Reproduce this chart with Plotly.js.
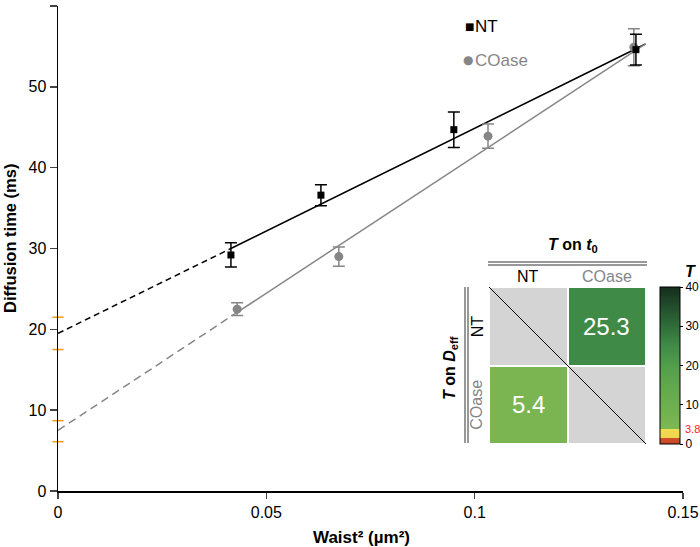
<!DOCTYPE html>
<html>
<head>
<meta charset="utf-8">
<script src="https://cdn.plot.ly/plotly-3.0.1.min.js"></script>
<style>html,body{margin:0;padding:0;background:#fff}#chart{width:700px;height:547px}</style>
</head>
<body>
<div id="chart"></div>
<script>
// ---- data ----
var waistNT = [0.0415, 0.0631, 0.0950, 0.1387];
var timeNT  = [29.2, 36.6, 44.7, 54.6];
var errNT   = [1.5, 1.3, 2.2, 1.9];

var waistCO = [0.0430, 0.0674, 0.1032, 0.1382];
var timeCO  = [22.5, 29.0, 43.9, 54.9];
var errCO   = [0.8, 1.2, 1.5, 2.3];

// linear fits: [intercept point, first data x, end]
var fitNTx = [0, 0.0415, 0.141];
var fitNTy = [19.5, 30.0, 55.3];
var fitCOx = [0, 0.043, 0.141];
var fitCOy = [7.5, 22.1, 55.3];

// intercept confidence bounds at x = 0
var ciX  = [0, 0, 0, 0];
var ciY  = [21.5, 17.5, 8.7, 6.1];

// inset: T statistics
var groups = ['NT', 'COase'];
var tValues = [[null, 25.3], [5.4, null]];
var diagMask = [[1, null], [null, 1]];
var tThreshold = 3.8;
var cbTicks = [0, 10, 20, 30, 40];

// ---- layout geometry (pixels) ----
var W = 700, H = 547;
var mL = 58, mR = 17, mT = 6, mB = 56;
var pw = W - mL - mR, ph = H - mT - mB;
function PX(x) { return (x - mL) / pw; }
function PY(y) { return (H - mB - y) / ph; }

var gray = '#868686';
var font = 'Liberation Sans, Arial, sans-serif';

var cbTop = 287, cbBot = 444, cbLeft = 660, cbW = 20;
var cbLen = cbBot - cbTop;
var yThr = cbBot - tThreshold / 40 * cbLen;

function A(o) {
  var base = {showarrow: false, xanchor: 'center', yanchor: 'middle', xref: 'paper', yref: 'paper'};
  for (var k in o) base[k] = o[k];
  return base;
}

var traces = [
  // fits
  {x: fitNTx.slice(0, 2), y: fitNTy.slice(0, 2), mode: 'lines', line: {color: '#000', width: 1.5, dash: '6px,4px'}, hoverinfo: 'skip', showlegend: false, cliponaxis: false},
  {x: fitNTx.slice(1), y: fitNTy.slice(1), mode: 'lines', line: {color: '#000', width: 1.5}, hoverinfo: 'skip', showlegend: false},
  {x: fitCOx.slice(0, 2), y: fitCOy.slice(0, 2), mode: 'lines', line: {color: gray, width: 1.5, dash: '8px,5px'}, hoverinfo: 'skip', showlegend: false, cliponaxis: false},
  {x: fitCOx.slice(1), y: fitCOy.slice(1), mode: 'lines', line: {color: gray, width: 1.5}, hoverinfo: 'skip', showlegend: false},
  // data
  {x: waistCO, y: timeCO, name: 'COase', mode: 'markers',
   marker: {symbol: 'circle', size: 9, color: gray},
   error_y: {type: 'data', array: errCO, visible: true, color: gray, thickness: 1.5, width: 6}, showlegend: false},
  {x: waistNT, y: timeNT, name: 'NT', mode: 'markers',
   marker: {symbol: 'square', size: 7, color: '#000'},
   error_y: {type: 'data', array: errNT, visible: true, color: '#000', thickness: 1.5, width: 6}, showlegend: false},
  // intercept CI marks
  {x: ciX, y: ciY, mode: 'markers', marker: {symbol: 'line-ew-open', size: 8, color: '#f39c12', line: {color: '#f39c12', width: 1.5}}, cliponaxis: false, hoverinfo: 'skip', showlegend: false},
  // inset heatmap
  {type: 'heatmap', z: diagMask, x: [0, 1], y: [0, 1], xaxis: 'x2', yaxis: 'y2',
   colorscale: [[0, '#d4d4d4'], [1, '#d4d4d4']], showscale: false, xgap: 2, ygap: 2, hoverinfo: 'skip'},
  {type: 'heatmap', z: tValues, x: [0, 1], y: [0, 1], xaxis: 'x2', yaxis: 'y2',
   zmin: 0, zmax: 40, xgap: 2, ygap: 2, hoverinfo: 'skip',
   colorscale: [
     [0, '#c8462a'], [0.036, '#d0502b'], [0.04, '#efd64a'], [0.093, '#f2dc52'],
     [0.095, '#7cb955'], [0.135, '#7ab552'], [0.3, '#68ac4e'], [0.48, '#55a04b'],
     [0.6325, '#3f8a47'], [0.78, '#2c6535'], [1, '#152e1e']],
   colorbar: {x: PX(cbLeft), xanchor: 'left', xpad: 0, ypad: 0, thickness: cbW,
     lenmode: 'pixels', len: cbLen, y: PY(cbBot), yanchor: 'bottom',
     outlinewidth: 1, outlinecolor: '#000', tickvals: cbTicks, ticks: 'outside', ticklen: 3,
     tickcolor: '#000', tickfont: {family: font, size: 12, color: '#000'}}}
];

var ann = [
  // axis titles
  A({x: PX(361), y: PY(537), text: '<b>Waist² (µm²)</b>', font: {family: font, size: 17, color: '#000'}}),
  A({x: PX(10), y: PY(239), text: '<b>Diffusion time (ms)</b>', textangle: -90, font: {family: font, size: 16.5, color: '#000'}}),
  // legend
  A({x: PX(462.5), y: PY(27), xanchor: 'left', text: '■', font: {family: 'DejaVu Sans', size: 10, color: '#000'}}),
  A({x: PX(473), y: PY(27), xanchor: 'left', text: 'NT', font: {family: font, size: 17, color: '#000'}}),
  A({x: PX(461.5), y: PY(60), xanchor: 'left', text: '●', font: {family: 'DejaVu Sans', size: 12, color: gray}}),
  A({x: PX(473), y: PY(60), xanchor: 'left', text: 'COase', font: {family: font, size: 17, color: gray}}),
  // inset titles
  A({x: PX(573), y: PY(245), text: '<b><i>T</i> on <i>t</i><sub>0</sub></b>', font: {family: font, size: 16, color: '#000'}}),
  A({x: PX(450), y: PY(368), text: '<b><i>T</i> on <i>D</i><sub>eff</sub></b>', textangle: -90, font: {family: font, size: 16, color: '#000'}}),
  A({xref: 'x2', x: 0, y: PY(276), text: groups[0], font: {family: font, size: 16, color: '#000'}}),
  A({xref: 'x2', x: 1, y: PY(276), text: groups[1], font: {family: font, size: 16, color: gray}}),
  A({yref: 'y2', x: PX(477), y: 0, text: groups[0], textangle: -90, font: {family: font, size: 16, color: '#000'}}),
  A({yref: 'y2', x: PX(477), y: 1, text: groups[1], textangle: -90, font: {family: font, size: 16, color: gray}}),
  // cell values
  A({xref: 'x2', yref: 'y2', x: 1, y: 0, text: String(tValues[0][1]), font: {family: font, size: 24, color: '#fff'}}),
  A({xref: 'x2', yref: 'y2', x: 0, y: 1, text: String(tValues[1][0]), font: {family: font, size: 24, color: '#fff'}}),
  // colorbar title + threshold
  A({x: PX(690), y: PY(271), text: '<b><i>T</i></b>', font: {family: font, size: 16, color: '#000'}}),
  A({x: PX(683), y: PY(yThr), xanchor: 'left', text: String(tThreshold), font: {family: font, size: 11, color: '#ff2020'}})
];

var shapes = [
  {type: 'line', xref: 'x2', yref: 'y2', x0: -0.5, y0: -0.5, x1: 1.5, y1: 1.5, line: {color: '#000', width: 1}},
  {type: 'line', xref: 'paper', yref: 'paper', x0: PX(488), x1: PX(647), y0: PY(262), y1: PY(262), line: {color: '#333', width: 1}},
  {type: 'line', xref: 'paper', yref: 'paper', x0: PX(488), x1: PX(647), y0: PY(265), y1: PY(265), line: {color: '#333', width: 1}},
  {type: 'line', xref: 'paper', yref: 'paper', x0: PX(465), x1: PX(465), y0: PY(287), y1: PY(443), line: {color: '#333', width: 1}},
  {type: 'line', xref: 'paper', yref: 'paper', x0: PX(468), x1: PX(468), y0: PY(287), y1: PY(443), line: {color: '#333', width: 1}},
  {type: 'line', xref: 'paper', yref: 'paper', x0: PX(cbLeft), x1: PX(cbLeft + cbW),
   y0: PY(yThr), y1: PY(yThr), line: {color: '#ff2020', width: 1.5, dash: 'dot'}}
];

var layout = {
  width: W, height: H,
  margin: {l: mL, r: mR, t: mT, b: mB, autoexpand: false},
  paper_bgcolor: '#fff', plot_bgcolor: 'rgba(0,0,0,0)',
  font: {family: font, size: 16, color: '#000'},
  showlegend: false,
  xaxis: {range: [0, 0.15], tickvals: [0, 0.05, 0.1, 0.15], ticks: 'outside', ticklen: 6, tickwidth: 1.5,
    showline: true, linecolor: '#000', linewidth: 1.5, showgrid: false, zeroline: false,
    tickfont: {size: 16}, automargin: false},
  yaxis: {range: [0, 60], dtick: 10, ticks: 'outside', ticklen: 7, tickwidth: 1.5,
    showline: true, linecolor: '#000', linewidth: 1.5, showgrid: false, zeroline: false,
    tickfont: {size: 16}, automargin: false},
  xaxis2: {domain: [PX(489), PX(646)], range: [-0.5, 1.5], anchor: 'y2', showgrid: false, zeroline: false, showticklabels: false, ticks: '', fixedrange: true},
  yaxis2: {domain: [PY(444), PY(287)], range: [1.5, -0.5], anchor: 'x2', showgrid: false, zeroline: false, showticklabels: false, ticks: '', fixedrange: true},
  annotations: ann,
  shapes: shapes
};

Plotly.newPlot('chart', traces, layout, {displayModeBar: false, staticPlot: true});
</script>
</body>
</html>
